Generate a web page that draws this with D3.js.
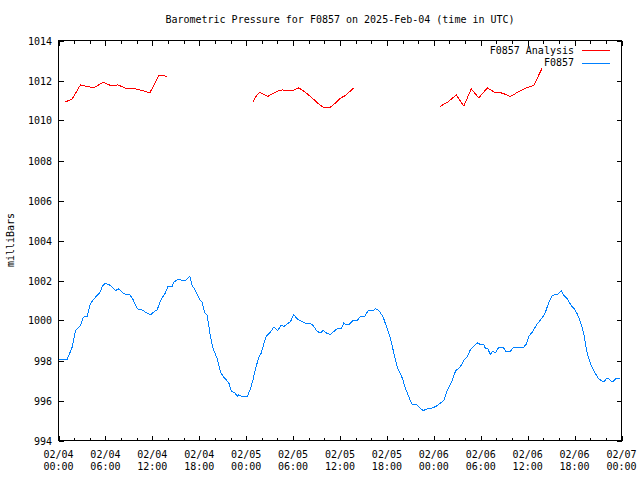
<!DOCTYPE html>
<html><head><meta charset="utf-8">
<script src="https://cdn.jsdelivr.net/npm/d3@7"></script>
<style>
body{margin:0;background:#fff;}
text{font-family:"DejaVu Sans Mono",monospace;font-size:10px;fill:#000;}
</style></head><body>
<svg id="c" width="640" height="480"></svg>
<script>
const title = "Barometric Pressure for F0857 on 2025-Feb-04 (time in UTC)";
const yLabel = "milliBars";
const seriesNames = ["F0857 Analysis", "F0857"];
const seriesColors = ["#ff0000", "#0080ff"];
const startTime = Date.UTC(2025, 1, 4, 0, 0);
const yTicks = [994,996,998,1000,1002,1004,1006,1008,1010,1012,1014];

// hours since 2025-02-04 00:00 UTC
const obsHours = [0,1.11,1.32,1.75,2.17,2.81,3.16,3.67,4.09,4.73,5.28,5.59,6.01,6.65,7.29,7.71,8.35,9.12,9.55,10.07,10.70,11.25,11.77,12.41,12.62,13.04,13.68,13.98,14.54,14.75,15.39,15.82,16.24,16.79,17.10,17.52,18.07,18.38,18.67,19.02,19.44,19.79,20.30,20.72,21.14,21.78,22.09,22.64,22.85,23.06,23.49,24.13,24.56,24.90,25.19,25.62,25.92,26.26,26.56,27.11,27.54,28.05,28.48,28.81,29.25,29.67,30.09,30.53,31.17,31.81,32.14,32.57,33.09,33.51,33.85,34.28,34.79,35.43,35.64,36.16,36.49,36.83,37.13,37.69,38.20,38.62,39.14,39.61,40.25,40.54,40.96,41.40,41.60,42.04,42.46,42.81,43.32,43.96,44.38,44.89,45.18,45.87,46.21,46.64,47.16,47.79,48.34,48.86,49.28,49.71,50.35,50.77,51.41,51.84,52.27,52.69,53.11,53.55,53.97,54.39,54.61,54.90,55.25,55.54,55.89,56.31,56.87,57.17,57.81,58.23,59.51,59.85,60.15,60.58,61.22,61.86,62.28,62.71,63.14,63.56,63.91,64.29,64.63,65.06,65.57,65.99,66.34,66.76,67.18,67.53,67.82,68.26,68.68,69.10,69.74,70.05,70.38,70.81,71.24,71.79];
const obsValues = [998.07,998.07,998.25,998.67,999.5,999.75,1000.17,1000.2,1000.85,1001.17,1001.38,1001.7,1001.87,1001.75,1001.5,1001.58,1001.33,1001.3,1001.03,1000.58,1000.53,1000.38,1000.28,1000.5,1000.53,1001.0,1001.38,1001.7,1001.7,1001.92,1002.08,1002.0,1002.0,1002.2,1001.75,1001.5,1001.03,1000.92,1000.42,1000.25,999.17,998.58,998.08,997.42,997.17,996.88,996.47,996.35,996.2,996.28,996.2,996.2,996.58,997.08,997.58,998.17,998.37,998.83,999.2,999.42,999.67,999.5,999.78,999.7,999.83,999.95,1000.3,1000.08,999.95,999.83,999.87,999.75,999.45,999.38,999.5,999.37,999.3,999.53,999.58,999.58,999.88,999.78,999.8,1000.0,1000.0,1000.2,1000.2,1000.5,1000.5,1000.58,1000.5,1000.25,1000.08,999.58,999.08,998.5,997.67,997.13,996.6,996.1,995.83,995.78,995.63,995.5,995.58,995.62,995.72,995.88,996.0,996.5,997.0,997.47,997.7,998.0,998.2,998.55,998.72,998.88,998.8,998.8,998.58,998.58,998.3,998.47,998.38,998.67,998.67,998.47,998.47,998.67,998.67,998.83,999.2,999.42,999.83,1000.13,1000.42,1000.92,1001.25,1001.3,1001.33,1001.5,1001.25,1001.08,1000.75,1000.58,1000.33,999.92,999.33,998.5,998.08,997.63,997.33,997.08,996.92,997.08,997.08,996.92,997.08,997.08];

// analysis series; null marks a gap
const anaHours = [0.81,1.32,1.75,2.81,3.67,4.52,5.72,6.65,7.59,8.79,9.85,10.70,11.68,12.83,13.26,13.9,14.2,
  24.85,25.19,25.74,26.26,26.77,27.33,28.05,28.61,29.25,29.97,30.73,31.37,32.23,32.87,33.51,33.85,34.79,35.43,36.07,36.70,37.77,38.5,
  48.77,49.79,50.86,51.84,52.78,53.75,54.83,55.76,56.75,57.81,58.87,59.85,60.79,61.86];
const anaValues = [1010.92,1011.0,1011.08,1011.78,1011.7,1011.63,1011.92,1011.75,1011.78,1011.58,1011.58,1011.5,1011.38,1012.25,1012.25,1012.2,null,
  1010.92,1011.17,1011.42,1011.3,1011.2,1011.33,1011.47,1011.53,1011.5,1011.5,1011.63,1011.47,1011.2,1010.97,1010.75,1010.67,1010.67,1010.88,1011.12,1011.25,1011.63,null,
  1010.7,1010.92,1011.28,1010.72,1011.58,1011.13,1011.63,1011.42,1011.37,1011.2,1011.45,1011.63,1011.75,1012.63];

const svg = d3.select("#c");
const L = 58.5, R = 621.5, T = 40.5, B = 440.5;
const toDate = h => new Date(startTime + h * 3600000);
const x = d3.scaleUtc().domain([toDate(0), toDate(72)]).range([L, R]);
const y = d3.scaleLinear().domain([994, 1014]).range([B, T]);

svg.append("text").attr("x", 340).attr("y", 23).attr("text-anchor", "middle").text(title);

const g = svg.append("g").attr("shape-rendering", "crispEdges");
// minor x ticks every 2h, major every 6h
const minorT = d3.range(0, 73, 2).map(toDate);
const majorT = d3.range(0, 73, 6).map(toDate);
minorT.forEach(t => {
  const xx = Math.round(x(t)) + 0.5;
  const big = (t - startTime) % (6 * 3600000) === 0;
  const len = big ? 5 : 3;
  g.append("line").attr("x1", xx).attr("x2", xx).attr("y1", B).attr("y2", B - len).attr("stroke", "#000");
  g.append("line").attr("x1", xx).attr("x2", xx).attr("y1", T).attr("y2", T + len).attr("stroke", "#000");
});
yTicks.forEach(v => {
  const yy = Math.round(y(v)) + 0.5;
  g.append("line").attr("x1", L).attr("x2", L + 5).attr("y1", yy).attr("y2", yy).attr("stroke", "#000");
  g.append("line").attr("x1", R).attr("x2", R - 5).attr("y1", yy).attr("y2", yy).attr("stroke", "#000");
  svg.append("text").attr("x", 52).attr("y", yy + 3.5).attr("text-anchor", "end").text(v);
});
const fmtD = d3.utcFormat("%m/%d"), fmtH = d3.utcFormat("%H:%M");
majorT.forEach(t => {
  const xx = x(t);
  svg.append("text").attr("x", xx).attr("y", 458).attr("text-anchor", "middle").text(fmtD(t));
  svg.append("text").attr("x", xx).attr("y", 470).attr("text-anchor", "middle").text(fmtH(t));
});
g.append("rect").attr("x", L).attr("y", T).attr("width", R - L).attr("height", B - T)
  .attr("fill", "none").attr("stroke", "#000");

svg.append("text").attr("transform", "translate(14,240) rotate(-90)").attr("text-anchor", "middle").text(yLabel);

const line = d3.line().defined(d => d[1] !== null).x(d => x(toDate(d[0]))).y(d => y(d[1]));
const anaData = anaHours.map((h, i) => [h, anaValues[i]]);
const obsData = obsHours.map((h, i) => [h, obsValues[i]]);
svg.append("path").datum(anaData).attr("d", line).attr("fill", "none")
  .attr("stroke", seriesColors[0]).attr("stroke-width", 1).attr("shape-rendering", "crispEdges");
svg.append("path").datum(obsData).attr("d", line).attr("fill", "none")
  .attr("stroke", seriesColors[1]).attr("stroke-width", 1).attr("shape-rendering", "crispEdges");

// legend
seriesNames.forEach((n, i) => {
  const yy = 50 + i * 12.5;
  svg.append("text").attr("x", 574).attr("y", yy + 3.5).attr("text-anchor", "end").text(n);
  svg.append("line").attr("x1", 582).attr("x2", 610).attr("y1", Math.round(yy) + 0.5).attr("y2", Math.round(yy) + 0.5)
    .attr("stroke", seriesColors[i]).attr("shape-rendering", "crispEdges");
});
</script></body></html>
